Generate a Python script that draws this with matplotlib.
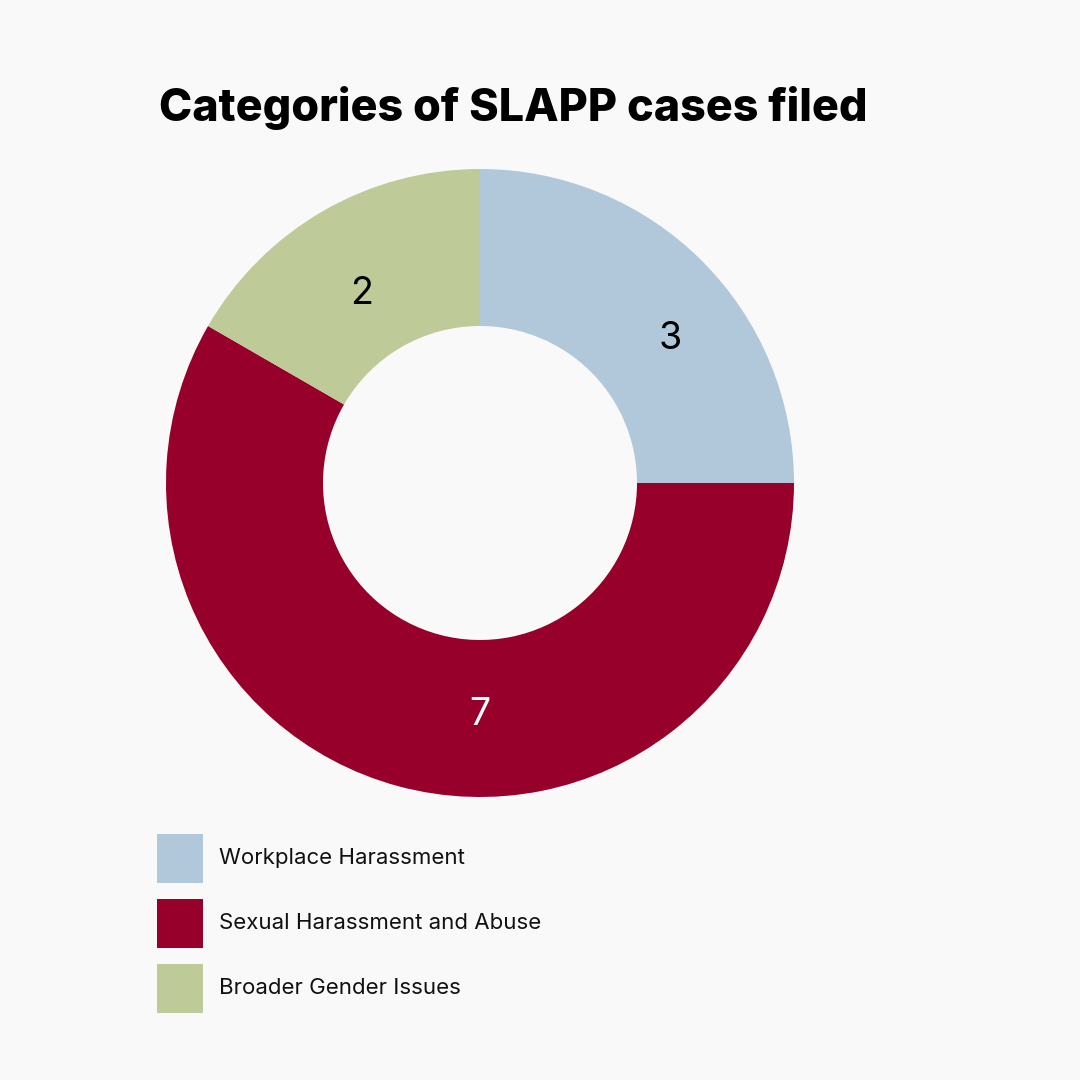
import matplotlib
matplotlib.use("Agg")
import matplotlib.pyplot as plt
from matplotlib.patches import Rectangle
import numpy as np

# data
categories = ["Workplace Harassment", "Sexual Harassment and Abuse", "Broader Gender Issues"]
cases = [3, 7, 2]
colors = ["#B0C8DA", "#96002A", "#BFCA99"]
value_colors = ["black", "white", "black"]
label_angles = [37, 270, 122]   # where the numbers sit (degrees)
label_radius = [0.76, 0.74, 0.71]

bg = "#F9F9F9"
plt.rcParams['font.family'] = ['Inter', 'DejaVu Sans']

fig = plt.figure(figsize=(10.8, 10.8), dpi=100, facecolor=bg)

ax = fig.add_axes([166 / 1080, 283 / 1080, 628 / 1080, 628 / 1080])
ax.set_facecolor(bg)
ax.pie(cases, colors=colors, startangle=90, counterclock=False,
       radius=1.0, wedgeprops=dict(width=0.5, linewidth=0))
ax.set_xlim(-1, 1)
ax.set_ylim(-1, 1)
ax.set_aspect("equal")
ax.axis("off")

for v, a, r, c in zip(cases, label_angles, label_radius, value_colors):
    t = np.deg2rad(a)
    ax.text(r * np.cos(t), r * np.sin(t), str(v), ha="center", va="center",
            fontsize=27, color=c, fontweight="normal")

fig.text(159 / 1080, 1 - 108 / 1080, "Categories of SLAPP cases filed",
         ha="left", va="center", fontsize=32.3, fontweight="heavy", color="black")

# legend
for i, (name, col) in enumerate(zip(categories, colors)):
    yc = 1 - (858 + 65 * i) / 1080
    fig.add_artist(Rectangle((157 / 1080, yc - 24.5 / 1080), 46 / 1080, 49 / 1080,
                             transform=fig.transFigure, facecolor=col, edgecolor="none"))
    fig.text(219 / 1080, yc, name, ha="left", va="center", fontsize=16, color="#111111")

fig.savefig("out.png", dpi=100, facecolor=bg)
